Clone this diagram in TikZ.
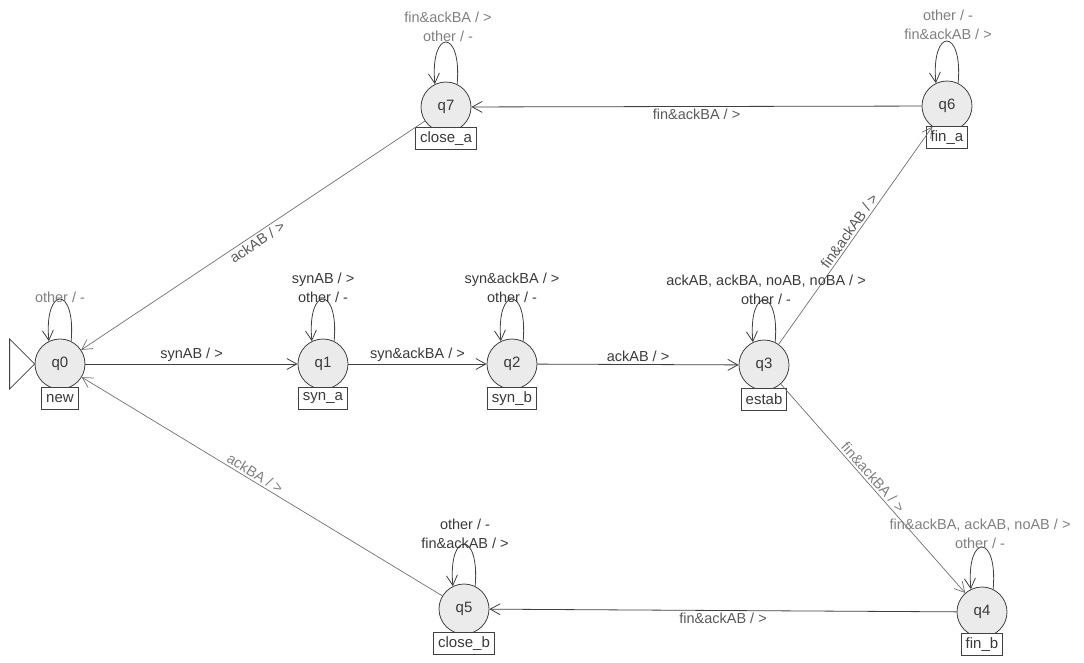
\documentclass[tikz,border=0pt]{standalone}
\usepackage{fontspec}
\setmainfont{Liberation Sans}
\usetikzlibrary{arrows.meta}
\definecolor{txt}{HTML}{3A3A3A}
\definecolor{ltxt}{HTML}{808080}
\definecolor{mtxt}{HTML}{5A5A5A}
\definecolor{linec}{HTML}{404040}
\definecolor{linel}{HTML}{707070}
\definecolor{statefill}{HTML}{EBEBEB}
\begin{document}
\begin{tikzpicture}[x=1pt,y=-1pt,
  state/.style={circle,draw=linec,fill=statefill,minimum size=50pt,inner sep=0pt,
    line width=0.8pt,text=txt,font=\fontsize{15}{18}\selectfont},
  namebox/.style={draw=linec,fill=white,inner xsep=4.5pt,inner ysep=0pt,minimum height=22pt,
    line width=0.8pt,anchor=north,text=txt,font=\fontsize{15}{18}\selectfont},
  edge/.style={draw=linec,line width=0.8pt,-{Straight Barb[length=10pt,width=11pt]}},
  dedge/.style={draw=linel,line width=0.7pt,-{Straight Barb[length=10pt,width=11pt]}},
  lbl/.style={font=\fontsize{14.5}{19}\selectfont,text=txt,inner sep=2pt},
  llbl/.style={lbl,text=ltxt},
  mlbl/.style={lbl,text=mtxt},
  loopc/.style={edge},
]
\useasboundingbox (0,0) rectangle (1084,662);

% states
\node[state] (q0) at (60,364) {q0};
\node[state] (q1) at (323,364) {q1};
\node[state] (q2) at (512,364) {q2};
\node[state] (q3) at (764,365) {q3};
\node[state] (q4) at (982,612) {q4};
\node[state] (q5) at (464,609) {q5};
\node[state] (q6) at (947,106) {q6};
\node[state] (q7) at (446,107) {q7};

% name boxes
\node[namebox] (b0) at ([yshift=-23pt]q0.center) {new};
\node[namebox] (b1) at ([yshift=-23pt]q1.center) {syn\_a};
\node[namebox] (b2) at ([yshift=-23pt]q2.center) {syn\_b};
\node[namebox] (b3) at ([yshift=-23pt]q3.center) {estab};
\node[namebox] (b4) at ([yshift=-21pt]q4.center) {fin\_b};
\node[namebox] (b5) at ([yshift=-23pt]q5.center) {close\_b};
\node[namebox] (b6) at ([yshift=-20pt]q6.center) {fin\_a};
\node[namebox] (b7) at ([yshift=-20pt]q7.center) {close\_a};

% initial marker
\draw[linec,line width=0.8pt] (q0.west) -- ++(-25,-25) -- ++(0,50) -- cycle;

% transitions
\draw[edge] (q0) -- node[lbl,above] {synAB / >} (q1);
\draw[edge] (q1) -- node[lbl,above] {syn\&ackBA / >} (q2);
\draw[edge] (q2) -- node[lbl,above] {ackAB / >} (q3);
\draw[dedge] (q3) -- node[mlbl,sloped,above] {fin\&ackAB / >} (q6);
\draw[dedge] (q3) -- node[llbl,sloped,above,pos=0.47] {fin\&ackBA / >} (q4);
\draw[edge] (q6) -- node[mlbl,below] {fin\&ackBA / >} (q7);
\draw[edge] (q4) -- node[mlbl,below] {fin\&ackAB / >} (q5);
\draw[dedge] (q7) -- node[mlbl,sloped,below] {ackAB / >} (q0);
\draw[dedge] (q5) -- node[llbl,sloped,above,pos=0.53] {ackBA / >} (q0);

% self loops
\foreach \q in {q0,q1,q2,q3,q4,q5,q6,q7}{
  \draw[loopc] (\q.64) .. controls +(5,-56) and +(-5,-56) .. (\q.116);
}

% loop labels
\node[llbl] (l0) at (60,297) {other / -};
\node[lbl,align=center] (l1) at (323,288) {synAB / >\\other / -};
\node[lbl,align=center] (l2) at (512,288) {syn\&ackBA / >\\other / -};
\node[lbl,align=center] (l3) at (766,290) {ackAB, ackBA, noAB, noBA / >\\other / -};
\node[llbl,align=center] (l4) at (980,534) {fin\&ackBA, ackAB, noAB / >\\other / -};
\node[lbl,align=center] (l5) at (465,534) {other / -\\fin\&ackAB / >};
\node[llbl,align=center] (l6) at (948,25) {other / -\\fin\&ackAB / >};
\node[llbl,align=center] (l7) at (448,27) {fin\&ackBA / >\\other / -};
\end{tikzpicture}
\end{document}
